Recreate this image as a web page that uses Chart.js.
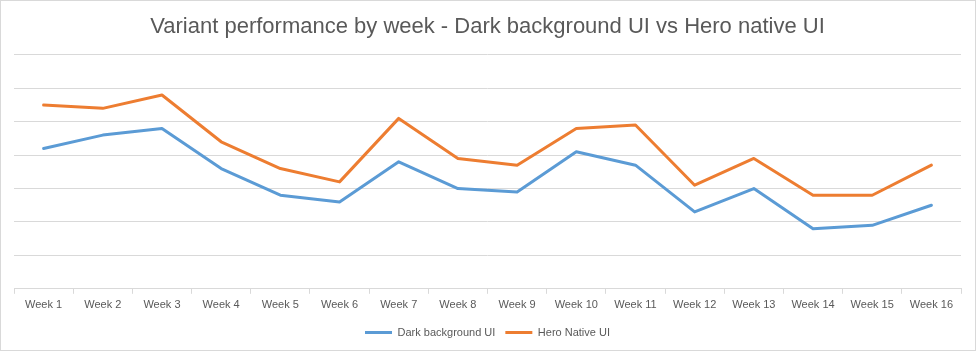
<!DOCTYPE html>
<html>
<head>
<meta charset="utf-8">
<script src="https://cdn.jsdelivr.net/npm/chart.js@4/dist/chart.umd.min.js"></script>
<style>
  html, body { margin: 0; padding: 0; background: #fff; }
  #wrap { position: relative; width: 976px; height: 351px; }
  #frame { position: absolute; left: 0; top: 0; width: 976px; height: 351px; box-sizing: border-box; border: 1px solid #d9d9d9; pointer-events: none; }
  canvas { display: block; }
</style>
</head>
<body>
<div id="wrap">
  <canvas id="c" width="976" height="351"></canvas>
  <div id="frame"></div>
</div>
<script>
const titleText = "Variant performance by week - Dark background UI vs Hero native UI";
const weeks = ["Week 1","Week 2","Week 3","Week 4","Week 5","Week 6","Week 7","Week 8","Week 9","Week 10","Week 11","Week 12","Week 13","Week 14","Week 15","Week 16"];
const darkBackgroundUI = [4.2, 4.6, 4.8, 3.6, 2.8, 2.6, 3.8, 3.0, 2.9, 4.1, 3.7, 2.3, 3.0, 1.8, 1.9, 2.5];
const heroNativeUI = [5.5, 5.4, 5.8, 4.4, 3.6, 3.2, 5.1, 3.9, 3.7, 4.8, 4.9, 3.1, 3.9, 2.8, 2.8, 3.7];
const seriesNames = ["Dark background UI", "Hero Native UI"];

const BLUE = "#5B9BD5", ORANGE = "#ED7D31", GRID = "#d9d9d9", TEXT = "#595959";
const FONT = "'Liberation Sans', Arial, sans-serif";

new Chart(document.getElementById("c"), {
  type: "line",
  data: {
    labels: weeks,
    datasets: [
      { label: seriesNames[0], data: darkBackgroundUI, borderColor: BLUE, backgroundColor: BLUE, borderWidth: 3, pointRadius: 0, tension: 0, borderJoinStyle: "round", borderCapStyle: "round" },
      { label: seriesNames[1], data: heroNativeUI, borderColor: ORANGE, backgroundColor: ORANGE, borderWidth: 3, pointRadius: 0, tension: 0, borderJoinStyle: "round", borderCapStyle: "round" }
    ]
  },
  options: {
    responsive: false,
    animation: false,
    devicePixelRatio: 1,
    layout: { padding: { left: 14, right: 15, top: 9, bottom: 3 } },
    plugins: {
      title: {
        display: true,
        text: titleText,
        color: TEXT,
        font: { family: FONT, size: 22, weight: "normal" },
        padding: { top: 5, bottom: 14.5 }
      },
      legend: {
        position: "bottom",
        labels: {
          color: TEXT,
          font: { family: FONT, size: 11 },
          boxWidth: 27,
          boxHeight: 3,
          padding: 10,
          generateLabels: (chart) => Chart.defaults.plugins.legend.labels.generateLabels(chart).map(l => Object.assign(l, { lineWidth: 0 }))
        }
      },
      tooltip: { enabled: false }
    },
    scales: {
      x: {
        offset: true,
        grid: { display: true, drawOnChartArea: false, drawTicks: true, tickLength: 5, offset: true, color: GRID },
        border: { display: true, color: GRID, width: 1 },
        ticks: { color: TEXT, font: { family: FONT, size: 11 }, padding: 5, maxRotation: 0, autoSkip: false }
      },
      y: {
        min: 0, max: 7,
        afterFit: (s) => { s.width = 0; },
        ticks: { display: false, stepSize: 1 },
        grid: { color: GRID, drawTicks: false, lineWidth: 1 },
        border: { display: false }
      }
    }
  }
});
</script>
</body>
</html>
